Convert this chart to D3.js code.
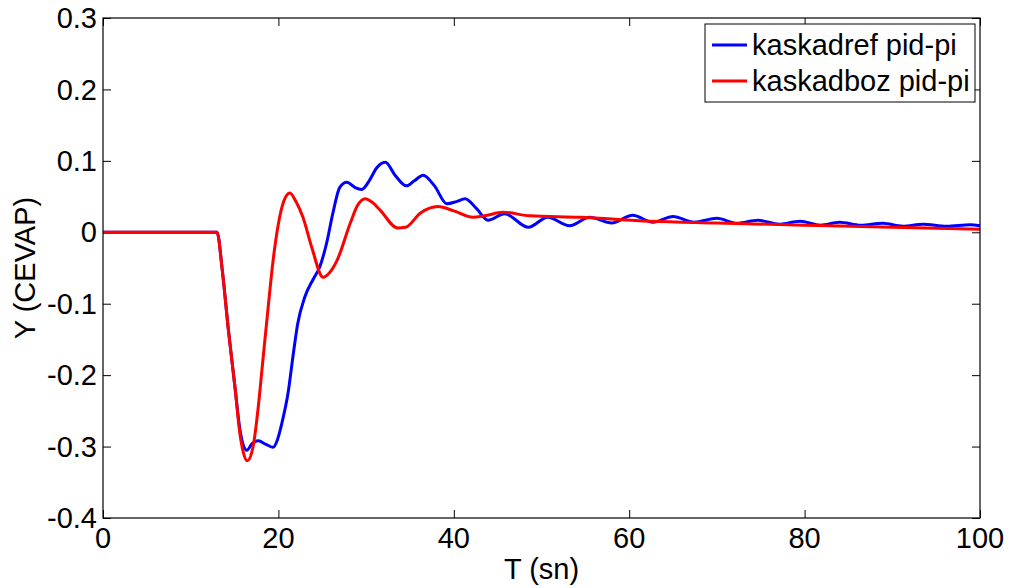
<!DOCTYPE html>
<html>
<head>
<meta charset="utf-8">
<script src="https://cdn.jsdelivr.net/npm/d3@7/dist/d3.min.js"></script>
<style>
  html, body { margin: 0; padding: 0; background: #fff; }
  svg text { font-family: "Liberation Sans", Arial, Helvetica, sans-serif; fill: #000; }
</style>
</head>
<body>
<svg id="chart" width="1016" height="588"></svg>
<script>
// ---- data ----
const refT = [0, 13, 13.6, 14.3, 15.05, 15.6, 16.0, 16.4, 17.0, 17.7, 18.6, 19.4, 19.9, 20.4, 21.1, 21.7, 22.2, 23, 24, 24.7, 25.5, 26.2, 27, 27.8, 28.7, 29.5, 30.4, 31.2, 32.2, 33.3, 34.6, 35.5, 36.5, 37.8, 39.2, 40.3, 41.3, 42.6, 43.9, 45.8, 48.5, 50.7, 53.2, 55.5, 58, 60.4, 62.7, 65, 67.4, 70, 72.3, 74.7, 77.1, 79.5, 81.8, 84, 86.4, 88.9, 91.2, 93.5, 96.2, 98.9, 100];
const refY = [0, 0, -0.053, -0.137, -0.217, -0.275, -0.298, -0.305, -0.296, -0.292, -0.297, -0.301, -0.29, -0.267, -0.225, -0.17, -0.128, -0.091, -0.065, -0.049, -0.015, 0.026, 0.063, 0.07, 0.063, 0.06, 0.073, 0.09, 0.098, 0.08, 0.065, 0.072, 0.08, 0.065, 0.04, 0.043, 0.047, 0.033, 0.017, 0.026, 0.007, 0.021, 0.009, 0.021, 0.013, 0.024, 0.014, 0.022, 0.014, 0.0196, 0.0126, 0.0168, 0.0112, 0.0154, 0.0098, 0.014, 0.0098, 0.0126, 0.0084, 0.0112, 0.0084, 0.0105, 0.009];

const bozT = [0, 13, 13.6, 14.3, 15.05, 15.6, 16.0, 16.45, 17.1, 17.7, 18.2, 18.8, 19.4, 20, 20.6, 21.3, 22.0, 22.8, 23.8, 25.1, 25.8, 26.7, 28.2, 29.0, 29.9, 30.7, 31.6, 33.6, 34.5, 36.2, 38.2, 40, 42.2, 43.5, 45.6, 48.7, 54.4, 62.4, 70, 80, 90, 100];
const bozY = [0, 0, -0.053, -0.137, -0.217, -0.281, -0.308, -0.32, -0.301, -0.245, -0.183, -0.109, -0.039, 0.012, 0.043, 0.055, 0.043, 0.021, -0.021, -0.063, -0.057, -0.039, 0.013, 0.037, 0.047, 0.042, 0.031, 0.006, 0.007, 0.027, 0.036, 0.03, 0.021, 0.023, 0.028, 0.023, 0.021, 0.0154, 0.013, 0.01, 0.007, 0.0042];

const xTicks = [0, 20, 40, 60, 80, 100];
const yTicks = [0.3, 0.2, 0.1, 0, -0.1, -0.2, -0.3, -0.4];
const seriesNames = ["kaskadref pid-pi", "kaskadboz pid-pi"];
const seriesColors = ["#0000ff", "#ff0000"];
const xLabel = "T (sn)";
const yLabel = "Y (CEVAP)";

// ---- layout ----
const L = 103, R = 980, T = 18, B = 518;
const FS = 29;
const svg = d3.select("#chart");

const x = d3.scaleLinear().domain([0, 100]).range([L, R]);
const y = d3.scaleLinear().domain([-0.4, 0.3]).range([B, T]);

const fmtY = d => d === 0 ? "0" : d3.format(".1f")(d).replace("−", "-");

// ticks on all four sides (inward)
const axB = d3.axisBottom(x).tickValues(xTicks).tickSize(-8).tickFormat("");
const axT = d3.axisTop(x).tickValues(xTicks).tickSize(-8).tickFormat("");
const axL = d3.axisLeft(y).tickValues(yTicks).tickSize(-8).tickFormat("");
const axR = d3.axisRight(y).tickValues(yTicks).tickSize(-8).tickFormat("");

function styleAxis(g) {
  g.selectAll("path.domain").remove();
  g.selectAll("line").attr("stroke", "#000").attr("stroke-width", 1);
}
svg.append("g").attr("transform", `translate(0,${B})`).call(axB).call(styleAxis);
svg.append("g").attr("transform", `translate(0,${T})`).call(axT).call(styleAxis);
svg.append("g").attr("transform", `translate(${L},0)`).call(axL).call(styleAxis);
svg.append("g").attr("transform", `translate(${R},0)`).call(axR).call(styleAxis);

// data lines
const line = d3.line().x(d => x(d[0])).y(d => y(d[1])).curve(d3.curveMonotoneX);
const series = [d3.zip(refT, refY), d3.zip(bozT, bozY)];
const clip = svg.append("clipPath").attr("id", "clip").append("rect")
  .attr("x", L).attr("y", T).attr("width", R - L).attr("height", B - T);
series.forEach((s, i) => {
  svg.append("path").datum(s)
    .attr("d", line)
    .attr("fill", "none")
    .attr("stroke", seriesColors[i])
    .attr("stroke-width", 3)
    .attr("stroke-linejoin", "round")
    .attr("clip-path", "url(#clip)");
});

// frame
svg.append("rect").attr("x", L).attr("y", T).attr("width", R - L).attr("height", B - T)
  .attr("fill", "none").attr("stroke", "#000").attr("stroke-width", 1.2);

// tick labels
svg.append("g").selectAll("text").data(xTicks).join("text")
  .attr("x", d => x(d)).attr("y", B + 30)
  .attr("text-anchor", "middle").attr("font-size", FS)
  .text(d => d);
svg.append("g").selectAll("text").data(yTicks).join("text")
  .attr("x", L - 6).attr("y", d => y(d)).attr("dy", "0.35em")
  .attr("text-anchor", "end").attr("font-size", FS)
  .text(fmtY);

// axis labels
svg.append("text").attr("x", (L + R) / 2).attr("y", 579)
  .attr("text-anchor", "middle").attr("font-size", FS).text(xLabel);
svg.append("text").attr("transform", `translate(35,${(T + B) / 2}) rotate(-90)`)
  .attr("text-anchor", "middle").attr("font-size", FS).text(yLabel);

// legend
const lg = svg.append("g");
lg.append("rect").attr("x", 705).attr("y", 24).attr("width", 270).attr("height", 78)
  .attr("fill", "#fff").attr("stroke", "#000").attr("stroke-width", 1);
seriesNames.forEach((n, i) => {
  const cy = 45 + i * 36;
  lg.append("line").attr("x1", 712).attr("x2", 747).attr("y1", cy).attr("y2", cy)
    .attr("stroke", seriesColors[i]).attr("stroke-width", 3);
  lg.append("text").attr("x", 752).attr("y", cy + 10).attr("font-size", FS).text(n);
});
</script>
</body>
</html>
